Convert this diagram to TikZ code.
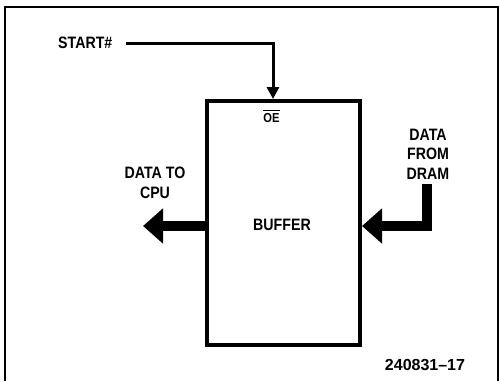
\documentclass[tikz,border=0pt]{standalone}
\usepackage{fontspec}
\setmainfont{Liberation Sans}
\newfontfamily\lblfont[FakeStretch=0.86]{Liberation Sans Bold}
\newfontfamily\numfont{Liberation Sans Bold}
\usetikzlibrary{arrows.meta}
\begin{document}
\begin{tikzpicture}[x=1pt,y=-1pt,
  lbl/.style={font=\fontsize{16.5}{19.5}\lblfont, align=center, inner sep=0pt},
  bufbox/.style={draw, line width=4pt, minimum width=153pt, minimum height=244pt, inner sep=0pt},
  sig/.style={line width=3pt, -{Triangle[width=12pt,length=12pt]}},
  bus/.style={line width=10pt, -{Triangle[width=34pt,length=20pt]}},
  frame/.style={line width=1.5pt}]
\useasboundingbox (0,0) rectangle (499,381);
% outer frame (open at bottom)
\coordinate (fbl) at (5,381);
\coordinate (ftl) at (5,7);
\coordinate (ftr) at (498,7);
\coordinate (fbr) at (498,381);
\draw[frame] (fbl) -- (ftl) -- (ftr) -- (fbr);
% buffer
\node[bufbox] (buf) at (283.5,223) {};
\node[lbl] (buftxt) at (282,225) {BUFFER};
\node[font=\fontsize{13}{14}\lblfont, inner sep=0pt] (oe) at (271.5,118) {OE};
\draw[line width=1pt] ([yshift=2.5pt]oe.north west) -- ([yshift=2.5pt]oe.north east);
% START#
\node[lbl, anchor=west] (start) at (58,43) {START\#};
\coordinate (s0) at (126,43);
\draw[sig] (s0) -| (buf.north -| 273,0);
% data to CPU
\node[lbl] (cpu) at (155,183) {DATA TO\\CPU};
\coordinate (cpuend) at (143,226);
\draw[bus] (buf.west |- cpuend) -- (cpuend);
% data from DRAM
\node[lbl] (dram) at (428,154) {DATA\\FROM\\DRAM};
\coordinate (d0) at (427,184);
\draw[bus] (d0) |- (buf.east |- cpuend);
% figure number
\node[font=\fontsize{16}{18}\numfont, inner sep=0pt] (fig) at (425,365) {240831–17};
\end{tikzpicture}
\end{document}
